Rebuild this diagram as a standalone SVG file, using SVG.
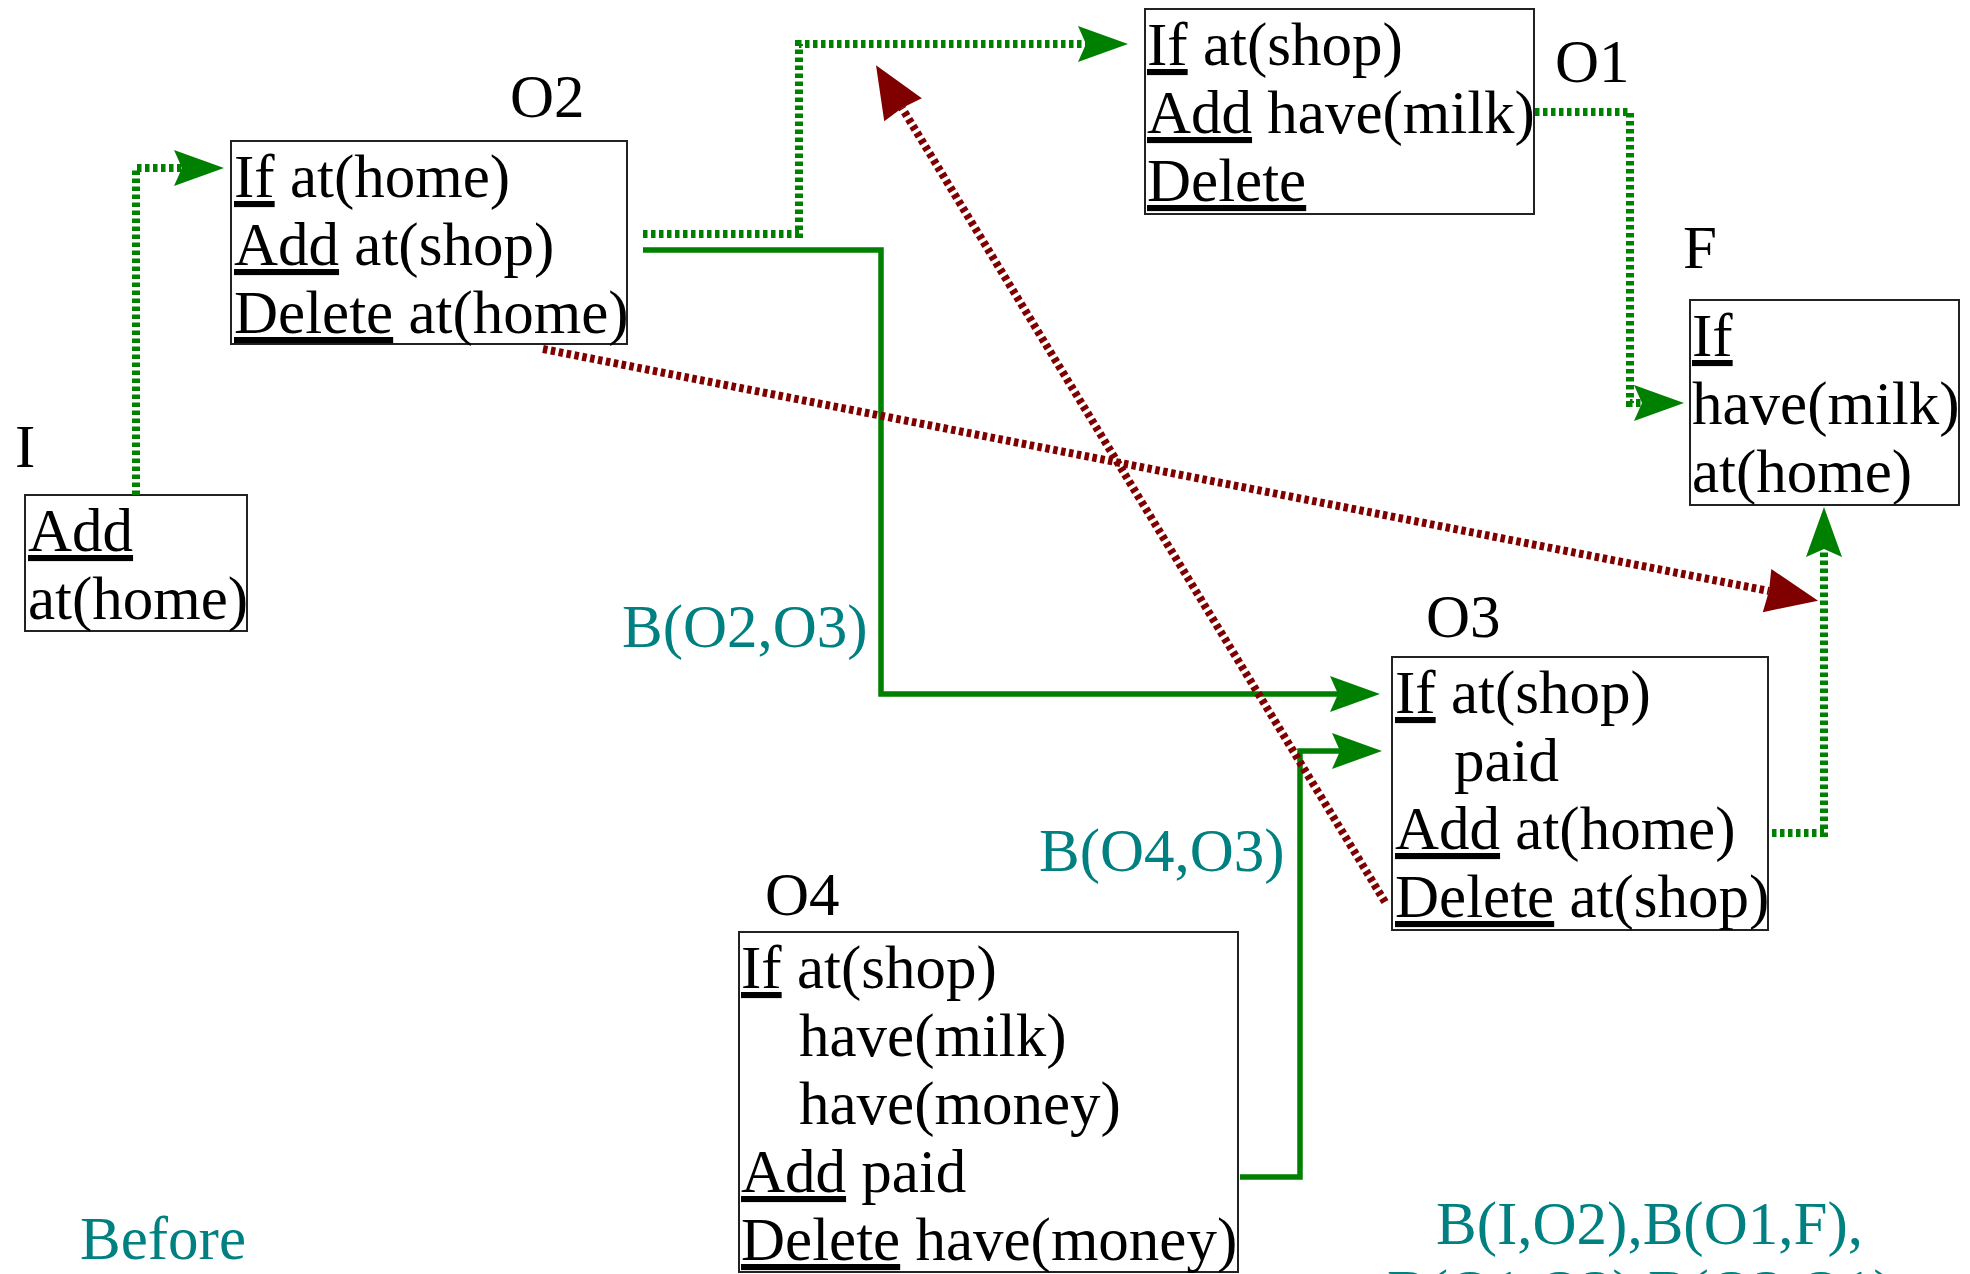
<svg xmlns="http://www.w3.org/2000/svg" width="1970" height="1274" viewBox="0 0 1970 1274">
<style>
text{font-family:"Liberation Serif","Times New Roman",serif;font-size:61px;fill:#000}
.u{text-decoration:underline}
.teal{fill:#008080}
.box{fill:#fff;stroke:#222;stroke-width:2}
.gdot{fill:none;stroke:#008000;stroke-width:8;stroke-dasharray:4.5 3.5}
.gsol{fill:none;stroke:#008000;stroke-width:5.5}
.rdot{fill:none;stroke:#800000;stroke-width:8;stroke-dasharray:4.5 3.5}
</style>
<defs>
<marker id="ga" markerUnits="userSpaceOnUse" orient="auto" refX="0" refY="0" markerWidth="60" markerHeight="40" overflow="visible">
<path d="M-8,-18 L42,0 L-8,18 L0,0 Z" fill="#008000"/>
</marker>
<marker id="ra" markerUnits="userSpaceOnUse" orient="auto" refX="0" refY="0" markerWidth="60" markerHeight="50" overflow="visible">
<path d="M-2,-22 L50,0 L-2,22 L0,0 Z" fill="#800000"/>
</marker>
</defs>
<rect width="1970" height="1274" fill="#fff"/>

<g id="node-I">
<text x="15" y="467">I</text>
<rect class="box" x="25" y="495" width="222" height="136"/>
<text x="28" y="551"><tspan class="u">Add</tspan></text>
<text x="28" y="619">at(home)</text>
</g>

<g id="node-O2">
<text x="510" y="117">O2</text>
<rect class="box" x="231" y="141" width="396" height="203"/>
<text x="234" y="197"><tspan class="u">If</tspan> at(home)</text>
<text x="234" y="265"><tspan class="u">Add</tspan> at(shop)</text>
<text x="234" y="333"><tspan class="u">Delete</tspan> at(home)</text>
</g>

<g id="node-O1">
<text x="1555" y="82">O1</text>
<rect class="box" x="1145" y="9" width="389" height="205"/>
<text x="1147" y="65"><tspan class="u">If</tspan> at(shop)</text>
<text x="1147" y="133"><tspan class="u">Add</tspan> have(milk)</text>
<text x="1147" y="201"><tspan class="u">Delete</tspan></text>
</g>

<g id="node-F">
<text x="1683" y="268">F</text>
<rect class="box" x="1690" y="300" width="269" height="205"/>
<text x="1692" y="356"><tspan class="u">If</tspan></text>
<text x="1692" y="424">have(milk)</text>
<text x="1692" y="492">at(home)</text>
</g>

<g id="node-O3">
<text x="1426" y="637">O3</text>
<rect class="box" x="1392" y="657" width="376" height="273"/>
<text x="1395" y="713"><tspan class="u">If</tspan> at(shop)</text>
<text x="1454" y="781">paid</text>
<text x="1395" y="849"><tspan class="u">Add</tspan> at(home)</text>
<text x="1395" y="917"><tspan class="u">Delete</tspan> at(shop)</text>
</g>

<g id="node-O4">
<text x="765" y="915">O4</text>
<rect class="box" x="739" y="932" width="499" height="340"/>
<text x="741" y="988"><tspan class="u">If</tspan> at(shop)</text>
<text x="799" y="1056">have(milk)</text>
<text x="799" y="1124">have(money)</text>
<text x="741" y="1192"><tspan class="u">Add</tspan> paid</text>
<text x="741" y="1260"><tspan class="u">Delete</tspan> have(money)</text>
</g>

<g id="connectors">
<path class="gdot" d="M136,495 V168 H182" marker-end="url(#ga)"/>
<path class="gdot" d="M643,234 H799 V44 H1086" marker-end="url(#ga)"/>
<path class="gdot" d="M1535,112 H1630 V403 H1642" marker-end="url(#ga)"/>
<path class="gdot" d="M1772,833 H1824 V549" marker-end="url(#ga)"/>
<path class="gsol" d="M643,250 H881 V694 H1338" marker-end="url(#ga)"/>
<path class="gsol" d="M1240,1177 H1300 V751 H1340" marker-end="url(#ga)"/>
<path class="rdot" d="M543,349 L1769,591" marker-end="url(#ra)"/>
<path class="rdot" d="M1385,902 L902,108" marker-end="url(#ra)"/>
</g>

<g id="labels">
<text class="teal" x="622" y="647">B(O2,O3)</text>
<text class="teal" x="1039" y="871">B(O4,O3)</text>
<text class="teal" x="80" y="1259">Before</text>
<text class="teal" x="1436" y="1244">B(I,O2),B(O1,F),</text>
<text class="teal" x="1387" y="1312">B(O1,O3),B(O3,O1)</text>
</g>
</svg>
